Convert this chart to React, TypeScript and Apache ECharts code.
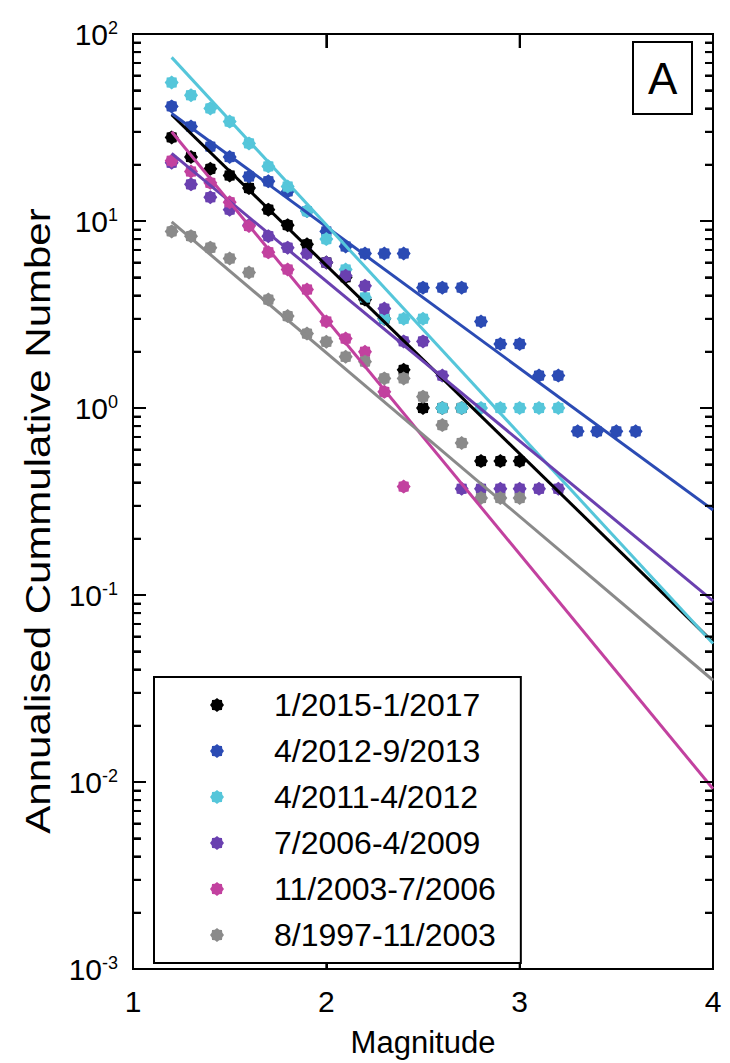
import React, { useEffect, useRef } from 'react';
import * as echarts from 'echarts';

// ---- data ----
const magnitudes = [1.2, 1.3, 1.4, 1.5, 1.6, 1.7, 1.8, 1.9, 2.0, 2.1, 2.2, 2.3, 2.4, 2.5, 2.6, 2.7, 2.8, 2.9, 3.0, 3.1, 3.2, 3.3, 3.4, 3.5, 3.6];

const seriesNames = ['1/2015-1/2017', '4/2012-9/2013', '4/2011-4/2012', '7/2006-4/2009', '11/2003-7/2006', '8/1997-11/2003'];

const values2015 = [28, 22, 19, 17.5, 15, 11.5, 9.5, 7.5, 6, 5, 3.8, 3, 1.6, 1, 1, 1, 0.52, 0.52, 0.52];
const values2012 = [41, 32, 25, 22, 17.3, 16.3, 14.4, 11.3, 8.8, 7.3, 6.7, 6.7, 6.7, 4.4, 4.4, 4.4, 2.9, 2.2, 2.2, 1.49, 1.49, 0.75, 0.75, 0.75, 0.75];
const values2011 = [55, 47, 40, 34, 26, 19.6, 15.3, 11.3, 8, 5.5, 3.9, 3, 3, 3, 1, 1, 1, 1, 1, 1, 1];
const values2006 = [20.5, 15.7, 13.4, 11.5, 9.5, 8.3, 7.2, 6.7, 6, 5.1, 4.5, 3.4, 2.27, 2.27, 1.49, 0.37, 0.37, 0.37, 0.37, 0.37, 0.37];
const values2003 = [21, 18.4, 16, 12.6, 9.4, 6.8, 5.5, 4.3, 2.9, 2.35, 2.0, 1.22, 0.38];
const values1997 = [8.8, 8.3, 7.2, 6.3, 5.3, 3.8, 3.1, 2.5, 2.26, 1.88, 1.77, 1.44, 1.44, 1.15, 0.81, 0.65, 0.33, 0.33, 0.33];

// fitted lines: value at start and end magnitude
const fitMagnitudes = [1.2, 4.0];
const fitStart = [37, 37.6, 75, 23, 30, 9.9];
const fitEnd = [0.056, 0.285, 0.055, 0.093, 0.0092, 0.035];

const xTickValues = [1, 2, 3, 4];
const yDecades = [0.001, 0.01, 0.1, 1, 10, 100];
const minorSteps = [2, 3, 4, 5, 6, 7, 8, 9];

// ---- styles ----
const colors = ['#000000', '#2b4bb4', '#55c6da', '#6a40b0', '#c2419f', '#8a8a8a'];
const FONT = "'Liberation Sans', Arial, Helvetica, sans-serif";
const STAR =
  'path://M20,10L17.58,13.14L17.07,17.07L13.14,17.58L10,20L6.86,17.58L2.93,17.07L2.42,13.14L0,10L2.42,6.86L2.93,2.93L6.86,2.42L10,0L13.14,2.42L17.07,2.93L17.58,6.86Z';

const allValues = [values2015, values2012, values2011, values2006, values2003, values1997];

export default function App() {
  const ref = useRef<HTMLDivElement>(null);

  useEffect(() => {
    if (!ref.current) return;
    const chart = echarts.init(ref.current, null, { renderer: 'svg' });

    const xMin = xTickValues[0];
    const xMax = xTickValues[xTickValues.length - 1];
    const yMin = yDecades[0];
    const yMax = yDecades[yDecades.length - 1];

    const minorTicks: number[] = [];
    yDecades.slice(0, -1).forEach((d) => minorSteps.forEach((k) => minorTicks.push(k * d)));

    const scatterSeries = seriesNames.map((name, i) => ({
      name,
      type: 'scatter',
      data: allValues[i].map((v, j) => [magnitudes[j], v]),
      symbol: STAR,
      symbolSize: 14,
      itemStyle: { color: colors[i], opacity: 1 },
    }));

    const lineSeries = seriesNames.map((name, i) => ({
      name: name + ' fit',
      type: 'line',
      data: [
        [fitMagnitudes[0], fitStart[i]],
        [fitMagnitudes[1], fitEnd[i]],
      ],
      showSymbol: false,
      symbol: 'none',
      lineStyle: { color: colors[i], width: 3 },
    }));

    const yAxisBase = (tickColor: string, minorColor: string) => ({
      type: 'log',
      min: yMin,
      max: yMax,
      splitLine: { show: false },
      axisLine: { show: false },
      axisTick: { show: true, inside: true, length: 13, lineStyle: { color: tickColor, width: 2 } },
      minorTick: { show: true, splitNumber: 9, length: 8, lineStyle: { color: minorColor, width: 2 } },
    });

    const xAxisBase = (tickColor: string) => ({
      type: 'value',
      min: xMin,
      max: xMax,
      interval: 1,
      splitLine: { show: false },
      axisLine: { show: false, onZero: false },
      axisTick: { show: true, inside: true, length: 14, lineStyle: { color: tickColor, width: 2 } },
    });

    chart.setOption({
      animation: false,
      backgroundColor: '#fff',
      title: {
        text: 'A',
        left: 633,
        top: 42,
        padding: [14, 15, 14, 15],
        borderColor: '#000',
        borderWidth: 2,
        backgroundColor: '#fff',
        textStyle: { fontSize: 44, fontWeight: 'normal', fontFamily: FONT, color: '#000', lineHeight: 44 },
      },
      grid: { show: true, left: 133, right: 17, top: 34, bottom: 90, borderColor: '#000', borderWidth: 2, backgroundColor: 'transparent' },
      xAxis: [
        {
          ...xAxisBase('#010101'),
          position: 'bottom',
          name: 'Magnitude',
          nameLocation: 'middle',
          nameGap: 58,
          nameTextStyle: { fontSize: 31, fontFamily: FONT, color: '#000' },
          axisLabel: { show: true, fontSize: 30, fontFamily: FONT, color: '#000', margin: 17 },
        },
        { ...xAxisBase('#020202'), position: 'top', axisLabel: { show: false } },
      ],
      yAxis: [
        {
          ...yAxisBase('#030303', '#040404'),
          position: 'left',
          axisLabel: {
            show: true,
            margin: 15,
            formatter: (v: number) => `{b|10}{s|${Math.round(Math.log10(v))}}`,
            rich: {
              b: { fontSize: 30, fontFamily: FONT, color: '#000', lineHeight: 30 },
              s: { fontSize: 18, fontFamily: FONT, color: '#000', verticalAlign: 'top' },
            },
          },
        },
        { ...yAxisBase('#050505', '#060606'), position: 'right', axisLabel: { show: false } },
      ],
      legend: {
        data: seriesNames,
        orient: 'vertical',
        left: 154,
        top: 677,
        padding: [10, 25, 10, 56],
        itemGap: 10,
        itemWidth: 14,
        itemHeight: 14,
        borderColor: '#000',
        borderWidth: 2,
        backgroundColor: '#fff',
        selectedMode: false,
        textStyle: { fontSize: 32, fontFamily: FONT, color: '#000', lineHeight: 36, padding: [0, 0, 0, 45] },
      },
      series: [...scatterSeries, ...lineSeries],
    });

    // tick marks placed through the chart's own axes (convertToPixel), drawn as graphic lines
    const toPx = (x: number, y: number) => chart.convertToPixel({ xAxisIndex: 0, yAxisIndex: 0 }, [x, y]) as number[];
    const tickLine = (x1: number, y1: number, x2: number, y2: number, z: number) => ({
      type: 'line',
      z,
      silent: true,
      shape: { x1, y1, x2, y2 },
      style: { stroke: '#000', lineWidth: 2 },
    });
    const tickGraphics: any[] = [];
    yDecades.forEach((v) => {
      const l = toPx(xMin, v);
      const r = toPx(xMax, v);
      tickGraphics.push(tickLine(l[0], l[1], l[0] + 13, l[1], 20));
      tickGraphics.push(tickLine(r[0], r[1], r[0] - 13, r[1], 20));
    });
    minorTicks.forEach((v) => {
      const l = toPx(xMin, v);
      const r = toPx(xMax, v);
      tickGraphics.push(tickLine(l[0], l[1], l[0] + 8, l[1], 20));
      tickGraphics.push(tickLine(r[0], r[1], r[0] - 8, r[1], 20));
    });
    xTickValues.slice(1, -1).forEach((m) => {
      const b = toPx(m, yMin);
      const t = toPx(m, yMax);
      tickGraphics.push(tickLine(b[0], b[1], b[0], b[1] - 14, 3));
      tickGraphics.push(tickLine(t[0], t[1], t[0], t[1] + 14, 20));
    });

    const yTitle = {
      type: 'text',
      z: 20,
      x: 38,
      y: 521,
      rotation: Math.PI / 2,
      scaleX: 1.2,
      silent: true,
      style: {
        text: 'Annualised Cummulative Number',
        fontSize: 35,
        fontFamily: FONT,
        fill: '#000',
        align: 'center',
        verticalAlign: 'middle',
      },
    };

    chart.setOption({ graphic: [yTitle, ...tickGraphics] });

    return () => chart.dispose();
  }, []);

  return <div ref={ref} style={{ position: 'fixed', left: 0, top: 0, width: 730, height: 1063, background: '#fff' }} />;
}
